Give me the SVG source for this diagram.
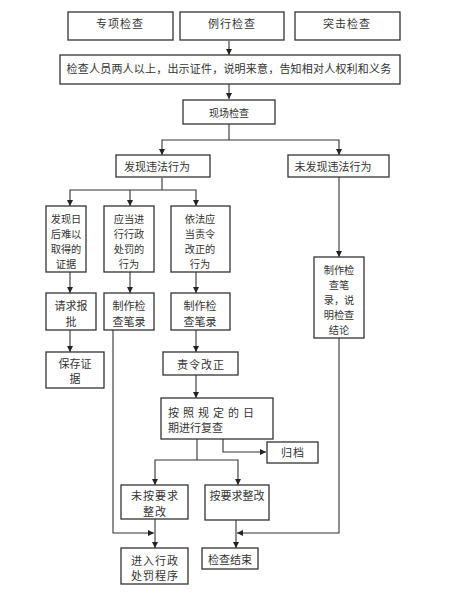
<svg xmlns="http://www.w3.org/2000/svg" width="450" height="596" viewBox="0 0 450 596">
<style>
.box{fill:#fff;stroke:#333;stroke-width:1.3}
.t{font-family:"Noto Sans CJK SC","Noto Sans",sans-serif;font-size:11px;fill:#333;text-anchor:middle;dominant-baseline:central}
.s{font-size:10.2px}
.c{fill:none;stroke:#333;stroke-width:1.1}
</style>
<defs>
<marker id="a" viewBox="0 0 10 10" refX="10" refY="5" markerWidth="6" markerHeight="6" orient="auto" markerUnits="userSpaceOnUse">
<path d="M0,0 L10,5 L0,10 z" fill="#222"/>
</marker>
</defs>
<rect width="450" height="596" fill="#fff"/>
<g id="connectors">
<path class="c" d="M229 41 V55" marker-end="url(#a)"/>
<path class="c" d="M229 84 V99" marker-end="url(#a)"/>
<path class="c" d="M229 124 V140"/>
<path class="c" d="M229 140 H162 V155" marker-end="url(#a)"/>
<path class="c" d="M229 140 H339 V155" marker-end="url(#a)"/>
<path class="c" d="M162 178 V190"/>
<path class="c" d="M162 190 H70 V206" marker-end="url(#a)"/>
<path class="c" d="M130 190 V206" marker-end="url(#a)"/>
<path class="c" d="M162 190 H196 V206" marker-end="url(#a)"/>
<path class="c" d="M339 177 V257" marker-end="url(#a)"/>
<path class="c" d="M70 272 V293" marker-end="url(#a)"/>
<path class="c" d="M130 272 V293" marker-end="url(#a)"/>
<path class="c" d="M196 272 V293" marker-end="url(#a)"/>
<path class="c" d="M70 330 V352" marker-end="url(#a)"/>
<path class="c" d="M196 330 V352" marker-end="url(#a)"/>
<path class="c" d="M196 375 V398" marker-end="url(#a)"/>
<path class="c" d="M113 330 V533 H154" marker-end="url(#a)"/>
<path class="c" d="M339 338 V533 H237" marker-end="url(#a)"/>
<path class="c" d="M197 439 V460"/>
<path class="c" d="M197 460 H155 V485" marker-end="url(#a)"/>
<path class="c" d="M197 460 H238 V485" marker-end="url(#a)"/>
<path class="c" d="M223 439 V452 H266" marker-end="url(#a)"/>
<path class="c" d="M155 519 V548" marker-end="url(#a)"/>
<path class="c" d="M236 520 V548" marker-end="url(#a)"/>
</g>
<g id="n1"><rect class="box" x="68" y="12" width="105" height="28"/><text class="t" x="120" y="23" letter-spacing="1">专项检查</text></g>
<g id="n2"><rect class="box" x="180" y="12" width="104" height="28"/><text class="t" x="232" y="23" letter-spacing="1">例行检查</text></g>
<g id="n3"><rect class="box" x="295" y="12" width="105" height="28"/><text class="t" x="347" y="23" letter-spacing="1">突击检查</text></g>
<g id="n4"><rect class="box" x="60" y="55" width="340" height="29"/><text class="t" x="229" y="68" letter-spacing="0.2">检查人员两人以上，出示证件，说明来意，告知相对人权利和义务</text></g>
<g id="n5"><rect class="box" x="183" y="100" width="92" height="24"/><text class="t" x="229" y="112" style="font-size:10px">现场检查</text></g>
<g id="n6"><rect class="box" x="116" y="155" width="94" height="22"/><text class="t" x="157" y="166">发现违法行为</text></g>
<g id="n7"><rect class="box" x="288" y="155" width="101" height="22"/><text class="t" x="333" y="166">未发现违法行为</text></g>
<g id="n8"><rect class="box" x="46" y="206" width="40" height="66"/><text class="t s" x="66" y="218">发现日</text><text class="t s" x="66" y="233">后难以</text><text class="t s" x="66" y="248">取得的</text><text class="t s" x="66" y="263">证据</text></g>
<g id="n9"><rect class="box" x="104" y="206" width="50" height="66"/><text class="t s" x="129" y="218">应当进</text><text class="t s" x="129" y="233">行行政</text><text class="t s" x="129" y="248">处罚的</text><text class="t s" x="129" y="263">行为</text></g>
<g id="n10"><rect class="box" x="171" y="206" width="59" height="66"/><text class="t s" x="200" y="218">依法应</text><text class="t s" x="200" y="233">当责令</text><text class="t s" x="200" y="248">改正的</text><text class="t s" x="200" y="263">行为</text></g>
<g id="n11"><rect class="box" x="314" y="257" width="50" height="81"/><text class="t s" x="339" y="269">制作检</text><text class="t s" x="339" y="284">查笔</text><text class="t s" x="339" y="299">录，说</text><text class="t s" x="339" y="314">明检查</text><text class="t s" x="339" y="329">结论</text></g>
<g id="n12"><rect class="box" x="46" y="293" width="50" height="37"/><text class="t" x="71" y="305">请求报</text><text class="t" x="71" y="321">批</text></g>
<g id="n13"><rect class="box" x="104" y="293" width="50" height="37"/><text class="t" x="129" y="305">制作检</text><text class="t" x="129" y="321">查笔录</text></g>
<g id="n14"><rect class="box" x="171" y="293" width="59" height="37"/><text class="t" x="200" y="305">制作检</text><text class="t" x="200" y="321">查笔录</text></g>
<g id="n15"><rect class="box" x="46" y="352" width="58" height="36"/><text class="t" x="75" y="363">保存证</text><text class="t" x="75" y="378">据</text></g>
<g id="n16"><rect class="box" x="163" y="352" width="75" height="23"/><text class="t" x="201" y="364" letter-spacing="1">责令改正</text></g>
<g id="n17"><rect class="box" x="161" y="398" width="112" height="41"/><text class="t" x="168" y="412" style="text-anchor:start" letter-spacing="4">按照规定的日</text><text class="t" x="168" y="427" style="text-anchor:start">期进行复查</text></g>
<g id="n18"><rect class="box" x="267" y="442" width="51" height="21"/><text class="t" x="293" y="452" letter-spacing="1">归档</text></g>
<g id="n19"><rect class="box" x="121" y="485" width="67" height="34"/><text class="t" x="155" y="495" letter-spacing="1">未按要求</text><text class="t" x="155" y="511" letter-spacing="1">整改</text></g>
<g id="n20"><rect class="box" x="205" y="485" width="64" height="35"/><text class="t" x="237" y="495">按要求整改</text></g>
<g id="n21"><rect class="box" x="121" y="548" width="67" height="36"/><text class="t" x="155" y="560" letter-spacing="1">进入行政</text><text class="t" x="155" y="575" letter-spacing="1">处罚程序</text></g>
<g id="n22"><rect class="box" x="202" y="548" width="56" height="21"/><text class="t" x="230" y="559">检查结束</text></g>
</svg>
